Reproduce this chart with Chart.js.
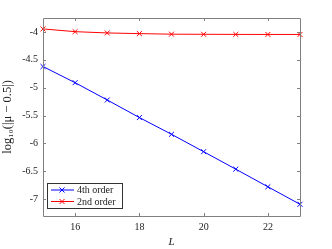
<!DOCTYPE html>
<html>
<head>
<meta charset="utf-8">
<script src="https://cdn.jsdelivr.net/npm/chart.js@4"></script>
<style>
  html, body { margin: 0; padding: 0; background: #fff; }
  #wrap { width: 332px; height: 249px; }
</style>
</head>
<body>
<div id="wrap"><canvas id="c" width="332" height="249"></canvas></div>
<script>
// system size L and log10 error for each scheme
var sizes = [15, 16, 17, 18, 19, 20, 21, 22, 23];
var fourthOrder = [-4.62, -4.91, -5.22, -5.535, -5.835, -6.147, -6.46, -6.776, -7.09];
var secondOrder = [-3.946, -3.995, -4.018, -4.03, -4.04, -4.042, -4.044, -4.045, -4.045];
var seriesNames = ['4th order', '2nd order'];
var xTicks = [16, 18, 20, 22];
var yTicks = [-4, -4.5, -5, -5.5, -6, -6.5, -7];

var serif = "'Liberation Serif', 'DejaVu Serif', serif";
var axisGray = '#808080';

function toPoints(ys) {
  return sizes.map(function (x, i) { return { x: x, y: ys[i] }; });
}

// box + inward ticks on all four sides, MATLAB style
var boxTicks = {
  id: 'boxTicks',
  afterDraw: function (chart) {
    var ctx = chart.ctx, a = chart.chartArea;
    var xs = chart.scales.x, ys = chart.scales.y;
    ctx.save();
    ctx.strokeStyle = axisGray;
    ctx.lineWidth = 1;
    ctx.beginPath();
    ctx.rect(Math.round(a.left) + 0.5, Math.round(a.top) + 0.5,
      Math.round(a.right - a.left), Math.round(a.bottom - a.top));
    var len = 3;
    xTicks.forEach(function (v) {
      var px = Math.round(xs.getPixelForValue(v)) + 0.5;
      ctx.moveTo(px, a.bottom); ctx.lineTo(px, a.bottom - len);
      ctx.moveTo(px, a.top); ctx.lineTo(px, a.top + len);
    });
    yTicks.forEach(function (v) {
      var py = Math.round(ys.getPixelForValue(v)) + 0.5;
      ctx.moveTo(a.left, py); ctx.lineTo(a.left + len, py);
      ctx.moveTo(a.right, py); ctx.lineTo(a.right - len, py);
    });
    ctx.stroke();

    // legend box in the lower left corner
    var lx = 47, ly = 183, lw = 75, lh = 25;
    ctx.fillStyle = '#fff';
    ctx.fillRect(lx, ly, lw, lh);
    ctx.strokeStyle = '#333';
    ctx.strokeRect(lx + 0.5, ly + 0.5, lw, lh);
    chart.data.datasets.forEach(function (ds, i) {
      var cy = ly + 7 + i * 11.5;
      ctx.strokeStyle = ds.borderColor;
      ctx.lineWidth = 1;
      ctx.beginPath();
      ctx.moveTo(51, cy); ctx.lineTo(74, cy);
      ctx.moveTo(59.5, cy - 2.5); ctx.lineTo(64.5, cy + 2.5);
      ctx.moveTo(59.5, cy + 2.5); ctx.lineTo(64.5, cy - 2.5);
      ctx.stroke();
      ctx.fillStyle = '#222';
      ctx.font = '10px ' + serif;
      ctx.textBaseline = 'middle';
      ctx.fillText(ds.label, 77, cy + 0.5);
    });
    ctx.restore();
  }
};

new Chart(document.getElementById('c'), {
  type: 'line',
  data: {
    datasets: [
      {
        label: seriesNames[0],
        data: toPoints(fourthOrder),
        borderColor: 'rgb(0, 0, 255)',
        backgroundColor: 'rgb(0, 0, 255)',
        borderWidth: 1,
        pointStyle: 'crossRot',
        pointRadius: 3.5,
        pointBorderWidth: 1,
        fill: false
      },
      {
        label: seriesNames[1],
        data: toPoints(secondOrder),
        borderColor: 'rgb(255, 0, 0)',
        backgroundColor: 'rgb(255, 0, 0)',
        borderWidth: 1,
        pointStyle: 'crossRot',
        pointRadius: 3.5,
        pointBorderWidth: 1,
        fill: false
      }
    ]
  },
  options: {
    responsive: false,
    animation: false,
    clip: false,
    layout: { padding: { top: 18, right: 32, left: 0, bottom: 0 } },
    plugins: { legend: { display: false }, tooltip: { enabled: false } },
    scales: {
      x: {
        type: 'linear',
        min: 15,
        max: 23,
        afterBuildTicks: function (s) { s.ticks = xTicks.map(function (v) { return { value: v }; }); },
        afterFit: function (s) { s.height = 33; },
        grid: { display: false, drawTicks: false },
        border: { display: false },
        ticks: { color: '#222', font: { family: serif, size: 10 }, padding: 5, maxRotation: 0 },
        title: { display: true, text: 'L', color: '#222', padding: { top: 2, bottom: 0 },
          font: { family: serif, size: 11, style: 'italic' } }
      },
      y: {
        type: 'linear',
        min: -7.3,
        max: -3.75,
        afterBuildTicks: function (s) { s.ticks = yTicks.map(function (v) { return { value: v }; }); },
        afterFit: function (s) { s.width = 43; },
        grid: { display: false, drawTicks: false },
        border: { display: false },
        ticks: { color: '#222', font: { family: serif, size: 10 }, padding: 5,
          callback: function (v) { return String(v); } },
        title: { display: true, text: 'log\u2081\u2080(|\u03bc \u2212 0.5|)', color: '#222', padding: { top: 0, bottom: 4 },
          font: { family: serif, size: 12.5 } }
      }
    }
  },
  plugins: [boxTicks]
});
</script>
</body>
</html>
